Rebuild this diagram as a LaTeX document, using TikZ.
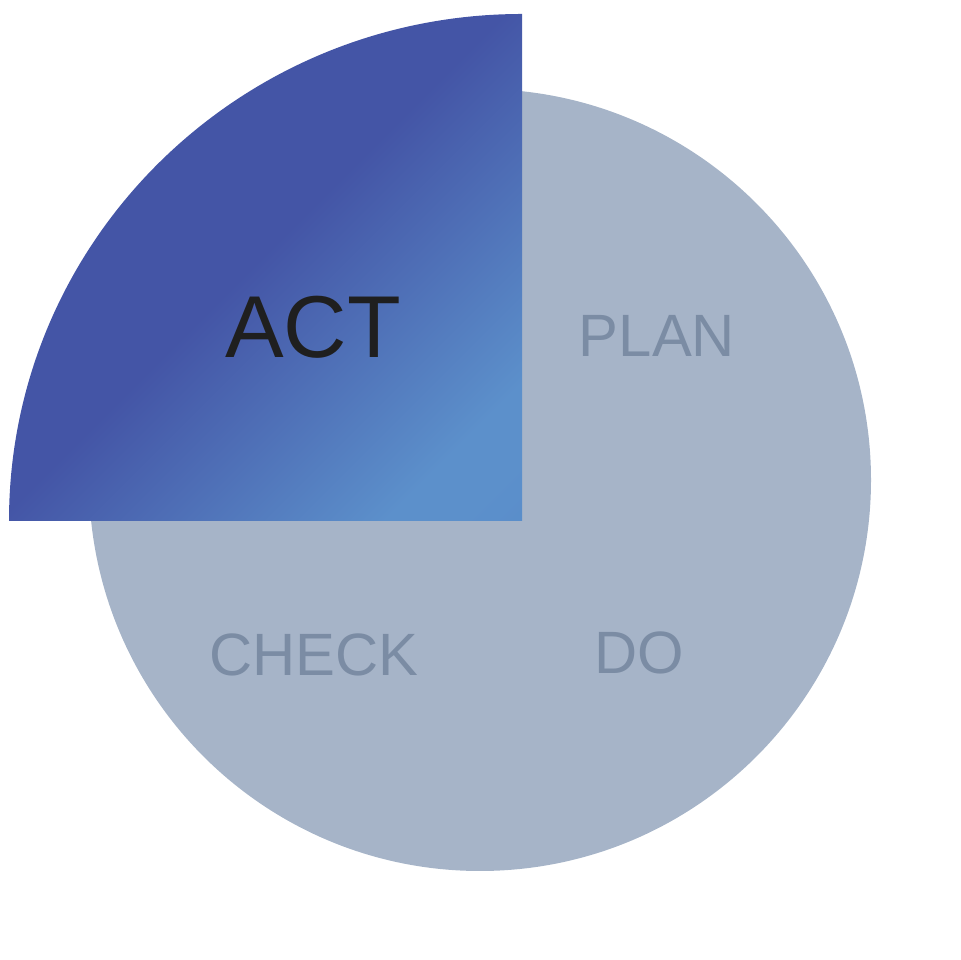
\documentclass[tikz,border=0pt]{standalone}
\usepackage{fontspec}
\setmainfont{Liberation Sans}
\usepackage{xcolor}
\usepackage{tikz}
\definecolor{ringgray}{HTML}{A6B4C8}
\definecolor{labelgray}{HTML}{7B8CA4}
\definecolor{actdark}{HTML}{4455A6}
\definecolor{actlight}{HTML}{5C90CB}
\definecolor{actedge}{HTML}{5486C8}
\definecolor{acttext}{HTML}{1F1F1F}
\pgfdeclarehorizontalshading{actshade}{100bp}{color(0bp)=(actdark); color(49bp)=(actdark); color(76bp)=(actlight); color(81bp)=(actlight); color(100bp)=(actedge)}
\tikzset{
  disc/.style={fill=ringgray, draw=none},
  wedge/.style={shading=actshade, shading angle=-45, draw=none},
  phase/.style={font=\fontsize{34}{40}\selectfont, text=labelgray, inner sep=0pt},
  activephase/.style={font=\fontsize{50}{60}\selectfont, text=acttext, inner sep=0pt}
}

\begin{document}
\begin{tikzpicture}[x=1cm,y=1cm]
  \path[use as bounding box] (0,0) rectangle (19.2,19.2);

  \fill[disc] (9.6,9.6) circle (7.82);
  \shade[wedge] (10.44,8.78) -- (0.18,8.78)
    arc[start angle=180, end angle=90, x radius=10.26, y radius=10.14] -- cycle;

  \node[activephase] (act) at (6.26,12.66) {ACT};
  \node[phase] (plan) at (13.14,12.48) {PLAN};
  \node[phase] (check) at (6.28,6.10) {CHECK};
  \node[phase] (do) at (12.78,6.14) {DO};
\end{tikzpicture}
\end{document}
